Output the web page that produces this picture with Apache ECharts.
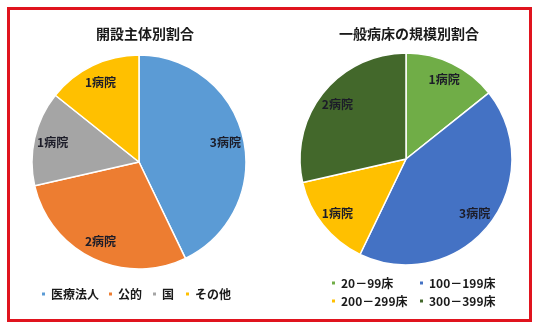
<!DOCTYPE html>
<html>
<head>
<meta charset="utf-8">
<style>
  html, body { margin: 0; padding: 0; background: #ffffff; }
  #chart { width: 540px; height: 333px; }
</style>
<script src="https://cdn.jsdelivr.net/npm/echarts@6/dist/echarts.min.js"></script>
</head>
<body>
<div id="chart"></div>
<script>
// 開設主体別割合
const openerNames = ['医療法人', '公的', '国', 'その他'];
const openerCounts = [3, 2, 1, 1];
const openerColors = ['#5B9BD5', '#ED7D31', '#A5A5A5', '#FFC000'];

// 一般病床の規模別割合
const sizeNames = ['20－99床', '100－199床', '200－299床', '300－399床'];
const sizeCounts = [1, 3, 1, 2];
const sizeColors = ['#70AD47', '#4472C4', '#FFC000', '#43682B'];

const titles = ['開設主体別割合', '一般病床の規模別割合'];
const unit = '病院';

const FONT = '"Noto Sans CJK JP", "Noto Sans", sans-serif';
const labelColor = '#1c1c28';

function toData(names, values, colors) {
  return names.map((n, i) => ({ name: n, value: values[i], itemStyle: { color: colors[i] } }));
}

// full pie without labels
function basePie(center, r, data) {
  return {
    type: 'pie',
    center: center,
    radius: [0, r],
    startAngle: 90,
    clockwise: true,
    silent: true,
    label: { show: false },
    labelLine: { show: false },
    itemStyle: { borderColor: '#ffffff', borderWidth: 1.5 },
    emphasis: { disabled: true },
    data: data
  };
}

// transparent ring used only to place the value labels near the rim
function labelRing(center, r, names, values) {
  return {
    type: 'pie',
    center: center,
    radius: [r * 0.6, r],
    startAngle: 90,
    clockwise: true,
    silent: true,
    itemStyle: { color: 'rgba(0,0,0,0)', borderWidth: 0 },
    emphasis: { disabled: true },
    labelLine: { show: false },
    label: {
      show: true,
      position: 'inside',
      formatter: p => p.value + unit,
      fontFamily: FONT,
      fontSize: 12,
      fontWeight: 'bold',
      color: labelColor
    },
    data: names.map((n, i) => ({ name: n, value: values[i] }))
  };
}

function legendItem(name, x, cy) {
  return {
    data: [name],
    left: x,
    top: cy - 7,
    padding: 0,
    icon: 'rect',
    itemWidth: 5,
    itemHeight: 5,
    selectedMode: false,
    textStyle: {
      fontFamily: FONT,
      fontSize: 12,
      fontWeight: 'bold',
      color: '#1a1a1a',
      lineHeight: 14
    }
  };
}

const leftCenter = [139, 162];
const rightCenter = [406, 159];

const option = {
  animation: false,
  backgroundColor: '#ffffff',
  title: [
    { text: titles[0], left: 140, top: 22, textAlign: 'center',
      textStyle: { fontFamily: FONT, fontSize: 14, fontWeight: 'bold', color: '#1a1a1a' } },
    { text: titles[1], left: 404, top: 22, textAlign: 'center',
      textStyle: { fontFamily: FONT, fontSize: 14, fontWeight: 'bold', color: '#1a1a1a' } }
  ],
  legend: [
    legendItem(openerNames[0], 40, 294),
    legendItem(openerNames[1], 107, 294),
    legendItem(openerNames[2], 151, 294),
    legendItem(openerNames[3], 184, 294),
    legendItem(sizeNames[0], 330, 283),
    legendItem(sizeNames[1], 418, 283),
    legendItem(sizeNames[2], 330, 301),
    legendItem(sizeNames[3], 418, 301)
  ],
  graphic: [
    {
      type: 'rect',
      shape: { x: 8.5, y: 8.5, width: 522, height: 312 },
      style: { fill: 'none', stroke: '#E0141E', lineWidth: 3 },
      silent: true
    }
  ],
  series: [
    basePie(leftCenter, 107, toData(openerNames, openerCounts, openerColors)),
    labelRing(leftCenter, 107, openerNames, openerCounts),
    basePie(rightCenter, 106, toData(sizeNames, sizeCounts, sizeColors)),
    labelRing(rightCenter, 106, sizeNames, sizeCounts)
  ]
};

const chart = echarts.init(document.getElementById('chart'), null, { renderer: 'canvas' });
chart.setOption(option);
</script>
</body>
</html>
